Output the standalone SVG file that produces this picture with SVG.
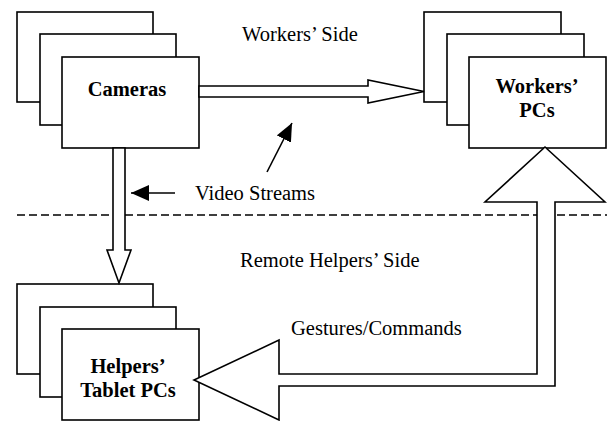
<svg xmlns="http://www.w3.org/2000/svg" width="607" height="421" viewBox="0 0 607 421">
<defs>
<style>
.box{fill:#fff;stroke:#000;stroke-width:1.6}
.conn{fill:#fff;stroke:#000;stroke-width:1.6;stroke-linejoin:miter}
.lbl{font-family:"Liberation Serif","Times New Roman",serif;font-size:20.5px;fill:#000}
.nl{font-family:"Liberation Serif","Times New Roman",serif;font-size:20.5px;font-weight:bold;fill:#000;text-anchor:middle}
.ptr{stroke:#000;stroke-width:1.6;fill:none}
</style>
<marker id="ah" viewBox="0 0 10 10" refX="10" refY="5" markerWidth="10" markerHeight="10" markerUnits="userSpaceOnUse" orient="auto">
<path d="M0,0 L10,5 L0,10 Z" fill="#000"/>
</marker>
<marker id="ah2" viewBox="0 0 18 16" refX="18" refY="8" markerWidth="18" markerHeight="16" markerUnits="userSpaceOnUse" orient="auto">
<path d="M0,0 L18,8 L0,16 Z" fill="#000"/>
</marker>
</defs>
<line x1="17" y1="215" x2="607" y2="215" stroke="#000" stroke-width="1.6" stroke-dasharray="8,4"/>
<g id="cameras">
<rect class="box" x="17" y="12" width="136" height="90"/>
<rect class="box" x="40" y="34" width="136" height="91"/>
<rect class="box" x="62" y="57" width="137" height="91"/>
<text class="nl" x="127" y="96">Cameras</text>
</g>
<g id="workers-pcs">
<rect class="box" x="424" y="12" width="137" height="90"/>
<rect class="box" x="447" y="34" width="137" height="91"/>
<rect class="box" x="469" y="57" width="137" height="91"/>
<text class="nl" x="537" y="93">Workers’</text>
<text class="nl" x="537" y="117">PCs</text>
</g>
<g id="helpers-tablets">
<rect class="box" x="17" y="284" width="136" height="90"/>
<rect class="box" x="40" y="307" width="136" height="90"/>
<rect class="box" x="62" y="329" width="137" height="91"/>
<text class="nl" x="128" y="373">Helpers’</text>
<text class="nl" x="128" y="397">Tablet PCs</text>
</g>
<g id="connectors">
<polygon class="conn" points="199,86 368,86 368,80 424,91.5 368,103 368,97 199,97"/>
<polygon class="conn" points="113,148 125,148 125,250 131,250 119,283 107,250 113,250"/>
<polygon class="conn" points="545,147 605,202 555,202 555,386 279,386 279,420 194,380 279,340 279,374 537,374 537,202 485,202"/>
<line class="ptr" x1="175" y1="193" x2="131" y2="193" marker-end="url(#ah2)"/>
<line class="ptr" x1="267" y1="172" x2="292" y2="123" marker-end="url(#ah2)"/>
</g>
<g id="labels">
<text class="lbl" x="242" y="41">Workers’ Side</text>
<text class="lbl" x="195" y="200">Video Streams</text>
<text class="lbl" x="240" y="267">Remote Helpers’ Side</text>
<text class="lbl" x="291" y="335">Gestures/Commands</text>
</g>
</svg>
